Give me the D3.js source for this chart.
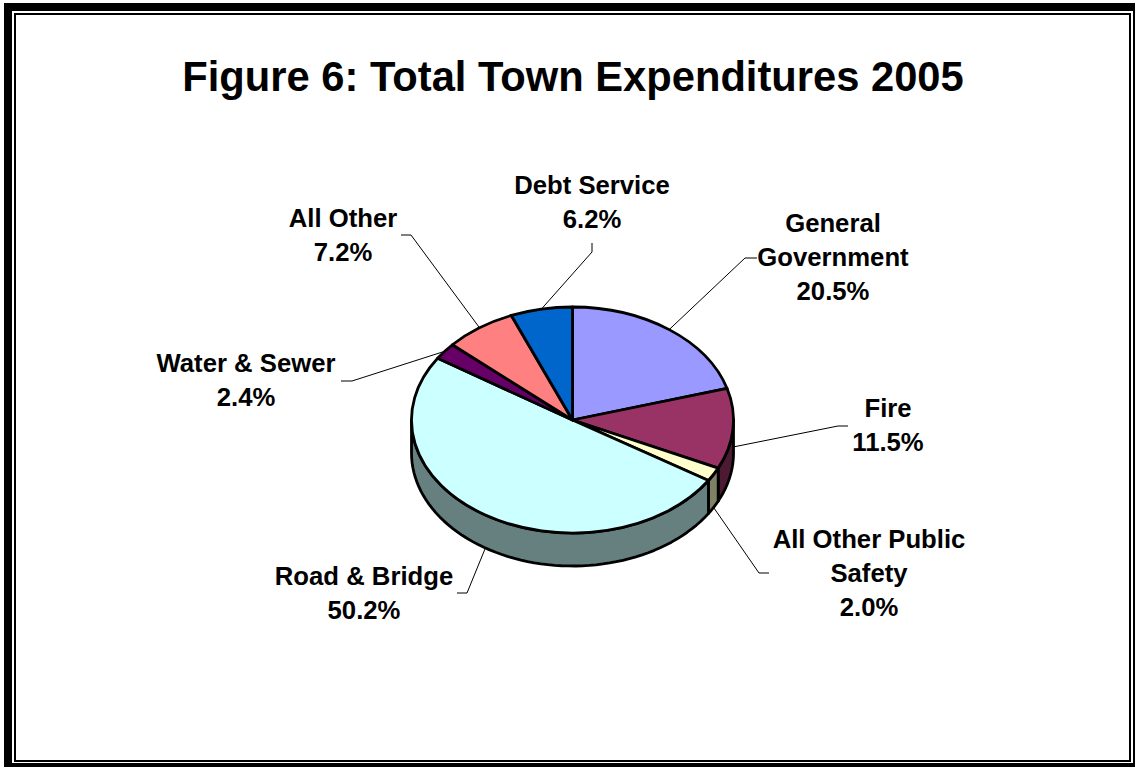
<!DOCTYPE html>
<html><head><meta charset="utf-8">
<script src="https://cdn.jsdelivr.net/npm/d3@7"></script>
<style>html,body{margin:0;padding:0;background:#fff;overflow:hidden}svg{display:block}
text{font-family:"Liberation Sans",Arial,sans-serif;font-weight:bold;fill:#000;text-anchor:middle}</style>
</head><body><div id="c"></div>
<script>
const categories = ["General Government","Fire","All Other Public Safety","Road & Bridge","Water & Sewer","All Other","Debt Service"];
const values = [20.5,11.5,2.0,50.2,2.4,7.2,6.2];
const valueLabels = ["20.5%","11.5%","2.0%","50.2%","2.4%","7.2%","6.2%"];
const labelLines = [["General","Government"],["Fire"],["All Other Public","Safety"],["Road & Bridge"],["Water & Sewer"],["All Other"],["Debt Service"]];
const topColors = ["#9999FF","#993366","#FFFFCC","#CCFFFF","#660066","#FF8080","#0066CC"];
const sideColors = ["#4D4D80","#4D1A33","#808066","#668080","#330033","#804040","#003366"];
const titleText = "Figure 6: Total Town Expenditures 2005";

const W=1135,H=767, cx=572.5, cy=420, rx=161, ry=113, depth=33;
// page layout: label centre x / first baseline, leader elbow points, how far down the wall each leader starts
const labelPos=[[833,232],[888,417],[869,548],[364,585],[246,372],[343,227],[592,194]];
const leaderEnds=[[[745,258],[757,258]],[[838,426],[848,426]],[[759,573],[769,573]],[[467,593],[457,593]],[[352,381],[341,381]],[[411,235],[401,235]],[[592,252],[592,243]]];
const leaderDrop=[0,0.55,1,1,0,0,0];

const svg=d3.select("#c").append("svg").attr("width",W).attr("height",H);
svg.append("rect").attr("width",W).attr("height",H).attr("fill","#fff");
// frame
svg.append("rect").attr("x",4).attr("y",3).attr("width",W-4).attr("height",H-3).attr("fill","#000");
svg.append("rect").attr("x",12).attr("y",11).attr("width",1121).attr("height",752).attr("fill","#fff");
svg.append("rect").attr("x",15).attr("y",14).attr("width",1115).attr("height",747).attr("fill","none").attr("stroke","#000").attr("stroke-width",2);

svg.append("text").attr("x",573).attr("y",91).attr("font-size",41.7).text(titleText);

const pie=d3.pie().sort(null).value(d=>d)(values);
const px=a=>cx+rx*Math.sin(a), py=a=>cy-ry*Math.cos(a);
const line=d3.line().x(d=>d[0]).y(d=>d[1]);

// leaders, behind the pie
pie.forEach((s,i)=>{
  const m=(s.startAngle+s.endAngle)/2;
  svg.append("path").attr("d",line([[px(m),py(m)+depth*leaderDrop[i]],...leaderEnds[i]]))
    .attr("fill","none").attr("stroke","#000").attr("stroke-width",1);
});

// side walls (visible between 90deg and 270deg of the projected ellipse)
pie.forEach((s,i)=>{
  const a0=Math.max(s.startAngle,Math.PI/2), a1=Math.min(s.endAngle,Math.PI*1.5);
  if(a1<=a0) return;
  const angles=d3.range(0,61).map(k=>a0+(a1-a0)*k/60);
  const pts=angles.map(a=>[px(a),py(a)]).concat(angles.slice().reverse().map(a=>[px(a),py(a)+depth]));
  svg.append("path").attr("d",line(pts)+"Z").attr("fill",sideColors[i]).attr("stroke","#000").attr("stroke-width",2.8).attr("stroke-linejoin","round");
});

// top faces
const arc=d3.arc().innerRadius(0).outerRadius(rx);
const g=svg.append("g").attr("transform",`translate(${cx},${cy}) scale(1,${ry/rx})`);
g.selectAll("path").data(pie).join("path").attr("d",arc).attr("fill",(d,i)=>topColors[i])
 .attr("stroke","#000").attr("stroke-width",2.8).attr("stroke-linejoin","round").attr("vector-effect","non-scaling-stroke");

// labels
categories.forEach((c,i)=>{
  const lines=[...labelLines[i],valueLabels[i]];
  const t=svg.append("text").attr("font-size",25.7);
  lines.forEach((l,k)=>t.append("tspan").attr("x",labelPos[i][0]).attr("y",labelPos[i][1]+k*34).text(l));
});
</script></body></html>
